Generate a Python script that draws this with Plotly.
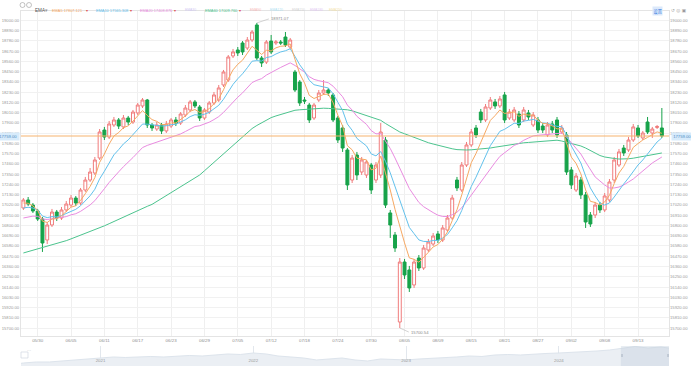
import plotly.graph_objects as go

# ---------------- data ----------------
x_labels = ["05/30", "06/05", "06/11", "06/17", "06/23", "06/29", "07/05", "07/12", "07/18", "07/24",
            "07/30", "08/05", "08/09", "08/15", "08/21", "08/27", "09/02", "09/08", "09/13"]
label_pos = [3 + 7 * k for k in range(len(x_labels))]  # candle index under each date label

opens = [16987, 17073, 17019, 16955, 16869, 16644, 16805, 16944, 16880, 16966,
         17019, 17094, 17041, 17180, 17287, 17362, 17523, 17823, 17748, 17877,
         17931, 17856, 17952, 17909, 18006, 18081, 18145, 17877, 17834, 17877,
         17813, 17866, 17931, 17898, 17984, 18038, 18124, 18070, 17952, 18016,
         18113, 18145, 18306, 18359, 18617, 18681, 18756, 18702, 18788, 18949,
         18595, 18552, 18777, 18756, 18767, 18820, 18713, 18445, 18338, 18145,
         18091, 17952, 18145, 18220, 18252, 18199, 17952, 17845, 17609, 17287,
         17555, 17373, 17341, 17448, 17287, 17341, 17716, 16934, 16698, 15765,
         16408, 16323, 16162, 16451, 16344, 16537, 16601, 16709, 16644, 16751,
         16880, 17287, 17180, 17448, 17663, 17845, 18016, 17931, 18059, 18124,
         18081, 18199, 17952, 17931, 17995, 17931, 18006, 17877, 17931, 17866,
         17770, 17888, 17931, 17802, 17770, 17395, 17180, 17287, 17127, 16912,
         16912, 17019, 16966, 17073, 17287, 17448, 17630, 17609, 17716, 17845,
         17738, 17909, 17791, 17850, 17845]
highs = [17094, 17105, 17041, 16977, 16891, 16837, 16977, 16966, 16998, 17062,
         17127, 17116, 17202, 17320, 17416, 17534, 17834, 17856, 17920, 17963,
         17952, 17984, 17974, 18038, 18113, 18166, 18156, 17898, 17909, 17898,
         17920, 17952, 17963, 18016, 18091, 18145, 18145, 18091, 18059, 18134,
         18231, 18306, 18467, 18627, 18692, 18713, 18777, 18820, 18895, 18971.07,
         18617, 18788, 18842, 18788, 18788, 18874, 18810, 18467, 18359, 18177,
         18113, 18113, 18252, 18359, 18274, 18220, 17974, 17877, 17630, 17555,
         17588, 17534, 17502, 17470, 17480, 17898, 17748, 16966, 16730, 16451,
         16441, 16366, 16441, 16483, 16591, 16655, 16719, 16741, 16805, 16912,
         17127, 17320, 17480, 17695, 17834, 17877, 18049, 18102, 18177, 18156,
         18188, 18231, 18049, 18070, 18027, 18070, 18038, 18016, 17963, 17898,
         17909, 17920, 17963, 17877, 17802, 17427, 17362, 17320, 17159, 16944,
         17052, 17052, 17148, 17298, 17534, 17620, 17663, 17748, 17888, 17877,
         17813, 17963, 17856, 17877, 18059]
lows = [16966, 17009, 16934, 16848, 16516, 16601, 16784, 16848, 16859, 16944,
        16998, 17009, 17019, 17159, 17266, 17341, 17502, 17716, 17727, 17856,
        17834, 17834, 17877, 17888, 17984, 18059, 17845, 17813, 17813, 17780,
        17791, 17845, 17866, 17877, 17963, 18016, 18059, 17920, 17931, 17995,
        18091, 18124, 18284, 18338, 18595, 18617, 18627, 18681, 18767, 18574,
        18499, 18531, 18638, 18735, 18735, 18713, 18692, 18231, 18081, 18102,
        17898, 17931, 18124, 18199, 18188, 17909, 17684, 17588, 17180, 17255,
        17287, 17341, 17309, 17137, 17255, 17309, 16987, 16666, 16516, 15700.54,
        16226, 16087, 16130, 16312, 16323, 16516, 16580, 16612, 16623, 16730,
        16859, 17169, 17159, 17427, 17641, 17738, 17898, 17909, 18038, 18049,
        18059, 17898, 17931, 17909, 17845, 17909, 17931, 17856, 17791, 17791,
        17748, 17791, 17738, 17780, 17341, 17191, 17159, 17084, 16773, 16784,
        16880, 16934, 16944, 17052, 17255, 17427, 17545, 17588, 17695, 17738,
        17716, 17780, 17738, 17834, 17738]
closes = [17073, 17030, 16955, 16869, 16612, 16805, 16944, 16880, 16966, 17030,
          17094, 17041, 17180, 17287, 17373, 17502, 17802, 17748, 17888, 17931,
          17866, 17952, 17909, 18016, 18091, 18145, 17877, 17845, 17877, 17813,
          17888, 17931, 17898, 17995, 18059, 18124, 18081, 17952, 18038, 18113,
          18199, 18274, 18445, 18606, 18660, 18649, 18660, 18788, 18874, 18595,
          18542, 18767, 18660, 18767, 18756, 18735, 18788, 18252, 18113, 18134,
          17931, 18091, 18220, 18252, 18220, 17931, 17716, 17630, 17234, 17523,
          17341, 17502, 17480, 17180, 17448, 17802, 17019, 16805, 16558, 16408,
          16269, 16130, 16408, 16344, 16558, 16623, 16687, 16644, 16773, 16880,
          17094, 17202, 17448, 17663, 17802, 17770, 17931, 18070, 18145, 18081,
          18156, 17931, 18016, 18038, 17877, 18038, 17963, 17984, 17823, 17823,
          17877, 17823, 17770, 17845, 17373, 17234, 17330, 17127, 16837, 16816,
          17019, 16966, 17116, 17266, 17502, 17588, 17577, 17716, 17856, 17759,
          17791, 17802, 17834, 17861, 17759]

ema5 = [17041, 17038, 17010, 16963, 16846, 16832, 16869, 16873, 16904, 16947,
        16996, 17011, 17068, 17141, 17218, 17313, 17476, 17566, 17673, 17759,
        17796, 17848, 17868, 17918, 17976, 18032, 17980, 17935, 17916, 17881,
        17883, 17899, 17899, 17932, 17974, 18024, 18043, 18012, 18021, 18052,
        18101, 18158, 18254, 18371, 18468, 18528, 18572, 18643, 18721, 18679,
        18633, 18678, 18671, 18704, 18721, 18725, 18746, 18581, 18426, 18328,
        18195, 18161, 18180, 18204, 18209, 18116, 17983, 17865, 17655, 17611,
        17521, 17515, 17503, 17396, 17413, 17543, 17368, 17180, 16973, 16785,
        16613, 16452, 16437, 16406, 16457, 16512, 16570, 16595, 16654, 16730,
        16851, 16968, 17128, 17306, 17472, 17572, 17690, 17817, 17926, 17978,
        18038, 18001, 18007, 18017, 17970, 17993, 17983, 17983, 17930, 17894,
        17889, 17867, 17835, 17838, 17683, 17533, 17465, 17353, 17181, 17059,
        17046, 17019, 17052, 17123, 17249, 17362, 17433, 17528, 17637, 17678,
        17716, 17744, 17774, 17803, 17788]
ema10 = [16987, 16995, 16987, 16966, 16901, 16884, 16895, 16892, 16906, 16928,
         16958, 16973, 17011, 17061, 17118, 17188, 17299, 17381, 17473, 17557,
         17613, 17674, 17717, 17772, 17830, 17887, 17886, 17878, 17878, 17866,
         17869, 17881, 17884, 17905, 17933, 17967, 17987, 17981, 17992, 18013,
         18046, 18088, 18153, 18235, 18312, 18373, 18426, 18491, 18561, 18567,
         18562, 18600, 18610, 18638, 18660, 18673, 18694, 18613, 18522, 18453,
         18357, 18309, 18293, 18285, 18274, 18211, 18121, 18032, 17887, 17820,
         17733, 17692, 17653, 17567, 17546, 17592, 17488, 17364, 17217, 17070,
         16924, 16779, 16712, 16645, 16629, 16628, 16639, 16640, 16665, 16703,
         16774, 16852, 16960, 17088, 17218, 17318, 17430, 17546, 17655, 17732,
         17809, 17831, 17865, 17896, 17893, 17919, 17926, 17937, 17917, 17899,
         17895, 17882, 17862, 17859, 17771, 17652, 17566, 17470, 17330, 17202,
         17116, 17041, 17019, 17041, 17105, 17180, 17245, 17309, 17384, 17448,
         17502, 17566, 17630, 17695, 17738]
ema20 = [16880, 16894, 16900, 16897, 16870, 16864, 16871, 16873, 16881, 16895,
         16914, 16926, 16951, 16983, 17020, 17066, 17136, 17194, 17261, 17324,
         17375, 17430, 17476, 17528, 17581, 17635, 17658, 17675, 17695, 17707,
         17724, 17743, 17758, 17781, 17807, 17837, 17861, 17869, 17886, 17907,
         17935, 17967, 18012, 18069, 18125, 18175, 18221, 18275, 18332, 18356,
         18374, 18412, 18436, 18467, 18494, 18517, 18543, 18515, 18477, 18444,
         18395, 18366, 18352, 18342, 18330, 18293, 18238, 18180, 18090, 18037,
         17970, 17925, 17884, 17817, 17782, 17784, 17711, 17625, 17523, 17417,
         17308, 17196, 17121, 17047, 17001, 16965, 16938, 16910, 16897, 16896,
         16914, 16942, 16990, 17055, 17126, 17187, 17257, 17335, 17412, 17475,
         17540, 17577, 17619, 17658, 17679, 17713, 17737, 17760, 17767, 17772,
         17782, 17786, 17784, 17790, 17748, 17684, 17630, 17566, 17480, 17395,
         17320, 17277, 17234, 17202, 17202, 17212, 17234, 17266, 17298, 17341,
         17384, 17427, 17470, 17502, 17534]
ema60 = [16505, 16519, 16533, 16547, 16561, 16575, 16588, 16602, 16617, 16637,
         16656, 16675, 16695, 16714, 16733, 16753, 16773, 16796, 16819, 16843,
         16866, 16889, 16912, 16936, 16958, 16982, 17005, 17026, 17057, 17089,
         17120, 17151, 17183, 17214, 17246, 17278, 17309, 17341, 17386, 17432,
         17477, 17523, 17568, 17614, 17659, 17705, 17750, 17797, 17839, 17872,
         17903, 17933, 17956, 17974, 17990, 18006, 18022, 18035, 18040, 18044,
         18049, 18053, 18057, 18057, 18055, 18052, 18049, 18044, 18040, 18029,
         18013, 17997, 17979, 17963, 17946, 17927, 17893, 17861, 17831, 17802,
         17783, 17763, 17744, 17725, 17705, 17687, 17673, 17659, 17645, 17633,
         17622, 17613, 17609, 17609, 17611, 17614, 17620, 17625, 17630, 17639,
         17648, 17656, 17665, 17673, 17682, 17686, 17690, 17695, 17699, 17703,
         17708, 17711, 17714, 17705, 17692, 17678, 17665, 17652, 17630, 17604,
         17577, 17550, 17534, 17523, 17518, 17512, 17512, 17515, 17521, 17530,
         17539, 17549, 17559, 17568, 17577]

y_ticks = list(range(15700, 19001, 110))

legend_items = [("EMA5", "17807.121"), ("EMA10", "17565.308"), ("EMA20", "17408.876"),
                ("EMA30", ""), ("EMA60", "17009.760"), ("EMA90", ""), ("EMA120", ""),
                ("EMA150", ""), ("EMA180", ""), ("EMA250", "")]

nav_dates = ["2020-06-25", "2020-07-01", "2020-08-01", "2020-09-01", "2020-10-01", "2020-11-01", "2020-12-01",
             "2021-01-01", "2021-02-01", "2021-03-01", "2021-04-01", "2021-05-01", "2021-06-01",
             "2021-07-01", "2021-08-01", "2021-09-01", "2021-10-01", "2021-11-01", "2021-12-01",
             "2022-01-01", "2022-02-01", "2022-03-01", "2022-04-01", "2022-05-01", "2022-06-01",
             "2022-07-01", "2022-08-01", "2022-09-01", "2022-10-01", "2022-11-01", "2022-12-01",
             "2023-01-01", "2023-02-01", "2023-03-01", "2023-04-01", "2023-05-01", "2023-06-01",
             "2023-07-01", "2023-08-01", "2023-09-01", "2023-10-01", "2023-11-01", "2023-12-01",
             "2024-01-01", "2024-02-01", "2024-03-01", "2024-04-01", "2024-05-01", "2024-06-01",
             "2024-07-01", "2024-08-01", "2024-09-01", "2024-09-20"]
nav_values = [11500, 11640, 12050, 12050, 12460, 12870, 13280,
              13690, 14100, 13895, 14100, 14305, 14100,
              14510, 14715, 14510, 14920, 15330, 15125,
              15740, 15330, 14510, 14100, 13690, 12870,
              13280, 13690, 12870, 12460, 13280, 13075,
              12870, 13280, 13485, 13690, 14100, 14510,
              14305, 14920, 15125, 14920, 15330, 15535,
              15740, 15945, 16150, 16560, 16970, 17790,
              18405, 17790, 18200, 17760]
nav_window = ["2024-05-28", "2024-09-20"]

# ---------------- figure ----------------
W, H = 691, 368
ML, MR, MT, MB = 21, 22, 11, 2
PW, PH = W - ML - MR, H - MT - MB


def px(x):
    return (x - ML) / PW


def py(y):
    return (H - MB - y) / PH


idx = list(range(len(closes)))
FONT = "Liberation Sans, Noto Sans CJK SC, sans-serif"
TICK_FONT = dict(family=FONT, size=4.2, color="#9a9a9a")

fig = go.Figure()
fig.add_trace(go.Candlestick(
    x=idx, open=opens, high=highs, low=lows, close=closes,
    increasing=dict(line=dict(color="#f07c7c", width=1), fillcolor="#ffffff"),
    decreasing=dict(line=dict(color="#17a34a", width=1), fillcolor="#17a34a"),
    whiskerwidth=0, hoverinfo="skip", xaxis="x", yaxis="y"))

for vals, col in [(ema60, "#4cc48e"), (ema20, "#e98be0"), (ema10, "#62c1ec"), (ema5, "#f6a862")]:
    fig.add_trace(go.Scatter(x=idx, y=vals, mode="lines", line=dict(color=col, width=1),
                             hoverinfo="skip", xaxis="x", yaxis="y"))

# invisible copy for the right-hand price axis
fig.add_trace(go.Scatter(x=idx, y=closes, mode="lines", line=dict(width=0), opacity=0,
                         hoverinfo="skip", xaxis="x", yaxis="y3"))

# navigator
fig.add_trace(go.Scatter(x=nav_dates, y=nav_values, mode="lines", fill="tozeroy",
                         line=dict(color="#dde4ec", width=1), fillcolor="#ebeff4",
                         hoverinfo="skip", xaxis="x2", yaxis="y2"))

yr = [15615, 19099]
y_text = ["%.2f" % v for v in y_ticks]

fig.update_layout(
    width=W, height=H, margin=dict(l=ML, r=MR, t=MT, b=MB, autoexpand=False),
    paper_bgcolor="#ffffff", plot_bgcolor="#ffffff", showlegend=False,
    font=dict(family=FONT), boxgap=0.12,
    xaxis=dict(domain=[0, 1], anchor="y", range=[-0.5, len(closes) + 0.5],
               tickvals=label_pos, ticktext=x_labels, tickfont=dict(family=FONT, size=4.4, color="#8e8e8e"),
               showgrid=True, gridcolor="#efefef", gridwidth=1, zeroline=False,
               showline=True, linecolor="#e4e4e4", mirror=True, ticks="", automargin=False,
               rangeslider=dict(visible=False), fixedrange=True),
    yaxis=dict(domain=[(H - MB - 336) / PH, 1], anchor="x", range=yr, side="left",
               tickvals=y_ticks, ticktext=y_text, tickfont=TICK_FONT, automargin=False,
               showgrid=True, gridcolor="#f1f1f1", gridwidth=1, zeroline=False,
               showline=True, linecolor="#e4e4e4", mirror=True, ticks="", fixedrange=True),
    yaxis3=dict(overlaying="y", anchor="x", side="right", range=yr, automargin=False,
                tickvals=y_ticks, ticktext=y_text, tickfont=TICK_FONT,
                showgrid=False, zeroline=False, showline=False, ticks="", fixedrange=True),
    xaxis2=dict(domain=[0, 1], anchor="y2", type="date", range=["2020-06-25", "2024-09-20"],
                tick0="2021-01-01", dtick="M12", tickformat="%Y", ticklabelposition="inside",
                tickfont=dict(family=FONT, size=4.4, color="#9a9a9a"), automargin=False,
                showgrid=True, gridcolor="#e2e7ed", zeroline=False, showline=False, ticks="",
                fixedrange=True),
    yaxis2=dict(domain=[0, (H - MB - 346) / PH], anchor="x2", range=[10400, 18610],
                showticklabels=False, showgrid=False, zeroline=False, showline=False,
                fixedrange=True),
)

last = closes[-1]
shapes = [
    dict(type="line", xref="x domain", yref="y", x0=0, x1=1, y0=last, y1=last,
         line=dict(color="#f6b36e", width=1)),
    dict(type="rect", xref="x2", yref="y2 domain", x0=nav_window[0], x1=nav_window[1], y0=0, y1=1,
         fillcolor="rgba(190,202,218,0.35)", line=dict(width=0)),
    dict(type="rect", xref="paper", yref="paper", x0=px(21), x1=px(28), y0=py(358), y1=py(352),
         fillcolor="#ffffff", line=dict(color="#c9d2dc", width=0.6)),
    dict(type="circle", xref="paper", yref="paper", x0=px(20), x1=px(25), y0=py(7.5), y1=py(2.5),
         line=dict(color="#9a9a9a", width=0.6)),
    dict(type="circle", xref="paper", yref="paper", x0=px(26.5), x1=px(31.5), y0=py(7.5), y1=py(2.5),
         line=dict(color="#9a9a9a", width=0.6)),
    dict(type="line", xref="paper", yref="paper", x0=px(622), x1=px(622), y0=py(357), y1=py(354),
         line=dict(color="#9aa6b4", width=0.8)),
    dict(type="line", xref="paper", yref="paper", x0=px(668), x1=px(668), y0=py(357), y1=py(354),
         line=dict(color="#9aa6b4", width=0.8)),
]

hi_i = highs.index(max(highs))
lo_i = lows.index(min(lows))
small = dict(family=FONT, size=4.2, color="#8a8a8a")
ann = [
    dict(x=hi_i, y=max(highs), xref="x", yref="y", text="%.2f" % max(highs), showarrow=True,
         arrowhead=0, arrowwidth=0.6, arrowcolor="#b5b5b5", ax=12, ay=-4, font=small, xanchor="left"),
    dict(x=lo_i, y=min(lows), xref="x", yref="y", text="%.2f" % min(lows), showarrow=True,
         arrowhead=0, arrowwidth=0.6, arrowcolor="#b5b5b5", ax=9, ay=4, font=small, xanchor="left"),
    dict(x=0, y=last, xref="paper", yref="y", text="%.2f" % last, showarrow=False, xanchor="right",
         xshift=-1, bgcolor="#d7ebfb", borderpad=1.2, font=dict(family=FONT, size=4.2, color="#4d8cc4")),
    dict(x=1, y=last, xref="paper", yref="y", text="%.2f" % last, showarrow=False, xanchor="left",
         xshift=2, bgcolor="#d7ebfb", borderpad=1.2, font=dict(family=FONT, size=4.2, color="#4d8cc4")),
    dict(x=px(24.5), y=py(355), xref="paper", yref="paper", text="···", showarrow=False,
         font=dict(family=FONT, size=4, color="#7f8b99")),
]

# toolbar / legend row
ty = py(5.5)
ann.append(dict(x=px(33), y=ty, xref="paper", yref="paper", text="EMA", showarrow=False, xanchor="left",
                font=dict(family=FONT, size=4.6, color="#555555")))
ann.append(dict(x=px(43), y=ty, xref="paper", yref="paper", text="▾", showarrow=False, xanchor="left",
                font=dict(family=FONT, size=4.6, color="#999999")))
leg_x = [50, 94, 138, 183, 203, 248, 268, 290, 308, 327]
leg_col = ["#f6a862", "#62c1ec", "#e98be0", "#cfc7f2", "#4cc48e", "#f6b9b9", "#ade2f2", "#d4d4d4",
           "#e2c9f2", "#f2e2a8"]
for (name, val), lx, col in zip(legend_items, leg_x, leg_col):
    txt = name if not val else "%s %s" % (name, val)
    fs = 3.9 if val else 3.4
    ann.append(dict(x=px(lx), y=ty, xref="paper", yref="paper", text=txt, showarrow=False,
                    xanchor="left", font=dict(family=FONT, size=fs, color=col)))
    if val:
        ann.append(dict(x=px(lx + 34), y=ty, xref="paper", yref="paper", text="▾", showarrow=False,
                        xanchor="left", font=dict(family=FONT, size=4, color="#e05050")))
ann.append(dict(x=px(652), y=ty, xref="paper", yref="paper", text="设置", showarrow=False,
                xanchor="left", bgcolor="#dce9fb", borderpad=0.5,
                font=dict(family=FONT, size=4.2, color="#3a7fe0")))
ann.append(dict(x=px(669), y=ty, xref="paper", yref="paper", text="↺ ◎ ▣", showarrow=False,
                xanchor="left", font=dict(family="DejaVu Sans", size=4.6, color="#9a9a9a")))

fig.update_layout(shapes=shapes, annotations=ann)
fig.write_html("out.html", config={"displayModeBar": False},
               post_script="document.body.style.margin='0px';document.body.style.overflow='hidden';")
